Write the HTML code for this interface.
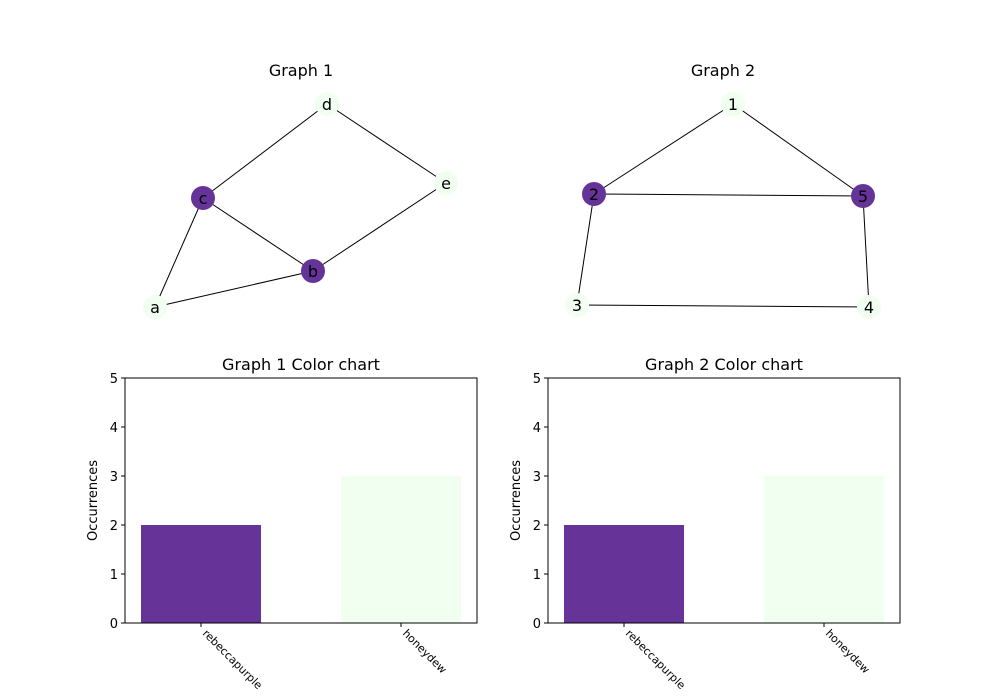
<!DOCTYPE html>
<html><head><meta charset="utf-8"><style>
body{margin:0;background:#fff}
svg{display:block;font-family:"DejaVu Sans","Liberation Sans",sans-serif}
</style></head><body>
<svg id="fig" width="1000" height="700" viewBox="0 0 1000 700"></svg>
<script>
const categories = ["rebeccapurple", "honeydew"];
const g1Counts = [2, 3];
const g2Counts = [2, 3];
const barColors = ["#663399", "#f0fff0"];
const yTicks = [0, 1, 2, 3, 4, 5];
const g1Nodes = ["a", "b", "c", "d", "e"];
const g1NodeColor = ["#f0fff0", "#663399", "#663399", "#f0fff0", "#f0fff0"];
const g1NodeX = [155, 313, 203, 327, 446];
const g1NodeY = [307, 271, 198, 104, 183];
const g1Edges = [["d","c"],["d","e"],["c","b"],["c","a"],["a","b"],["b","e"]];
const g2Nodes = ["1", "2", "3", "4", "5"];
const g2NodeColor = ["#f0fff0", "#663399", "#f0fff0", "#f0fff0", "#663399"];
const g2NodeX = [733, 594, 577, 869, 863];
const g2NodeY = [104, 194, 305, 307, 196];
const g2Edges = [["1","2"],["1","5"],["2","5"],["2","3"],["5","4"],["3","4"]];

const NS = "http://www.w3.org/2000/svg";
const svg = document.getElementById("fig");
function mk(tag, attrs, parent) {
  const e = document.createElementNS(NS, tag);
  for (const k in attrs) e.setAttribute(k, attrs[k]);
  (parent || svg).appendChild(e);
  return e;
}
function txt(s, attrs, parent) { const t = mk("text", attrs, parent); t.textContent = s; return t; }

function drawGraph(id, title, tx, nodes, colors, xs, ys, edges) {
  const g = mk("g", {});
  
  
  const t = txt(title, {x: tx, y: 76, "text-anchor": "middle", "font-size": 16}, g);
  
  
  edges.forEach(([u, v]) => {
    const i = nodes.indexOf(u), j = nodes.indexOf(v);
    const l = mk("line", {x1: xs[i], y1: ys[i], x2: xs[j], y2: ys[j], stroke: "#000", "stroke-width": 1}, g);
    
    
  });
  nodes.forEach((n, i) => {
    const c = mk("circle", {cx: xs[i], cy: ys[i], r: 12, fill: colors[i]}, g);
    
    
    const l = txt(n, {x: xs[i], y: ys[i] + 6, "text-anchor": "middle", "font-size": 16}, g);
    
    
  });
}
drawGraph("graph-1", "Graph 1", 301, g1Nodes, g1NodeColor, g1NodeX, g1NodeY, g1Edges);
drawGraph("graph-2", "Graph 2", 723, g2Nodes, g2NodeColor, g2NodeX, g2NodeY, g2Edges);

function drawBars(id, title, left, counts) {
  const top = 378, bottom = 623, w = 352;
  const yScale = v => bottom - v * (bottom - top) / 5;
  const xScale = i => left + 76 + i * 200;
  const g = mk("g", {});
  
  
  const t = txt(title, {x: left + w / 2, y: 370, "text-anchor": "middle", "font-size": 16}, g);
  
  
  counts.forEach((v, i) => {
    const b = mk("rect", {x: xScale(i) - 60, y: yScale(v), width: 120, height: bottom - yScale(v), fill: barColors[i]}, g);
    
    
  });
  const f = mk("rect", {x: left, y: top, width: w, height: bottom - top, fill: "none", stroke: "#000", "stroke-width": 1}, g);
  
  
  yTicks.forEach(v => {
    const y = yScale(v);
    mk("line", {x1: left - 4, y1: y, x2: left, y2: y, stroke: "#000"}, g);
    const l = txt(String(v), {x: left - 7, y: y + 5, "text-anchor": "end", "font-size": 13}, g);
    
    
  });
  categories.forEach((c, i) => {
    const x = xScale(i);
    mk("line", {x1: x, y1: bottom, x2: x, y2: bottom + 4, stroke: "#000"}, g);
    const l = txt(c, {x: x + 1, y: bottom + 11, "font-size": 11, transform: `rotate(45 ${x + 1} ${bottom + 11})`}, g);
    
    
  });
  const yl = txt("Occurrences", {x: 0, y: 0, "text-anchor": "middle", "font-size": 13, transform: `translate(${left - 28} ${(top + bottom) / 2}) rotate(-90)`}, g);
  
  
}
drawBars("graph-1-color-chart", "Graph 1 Color chart", 125, g1Counts);
drawBars("graph-2-color-chart", "Graph 2 Color chart", 548, g2Counts);
</script>
</body></html>
